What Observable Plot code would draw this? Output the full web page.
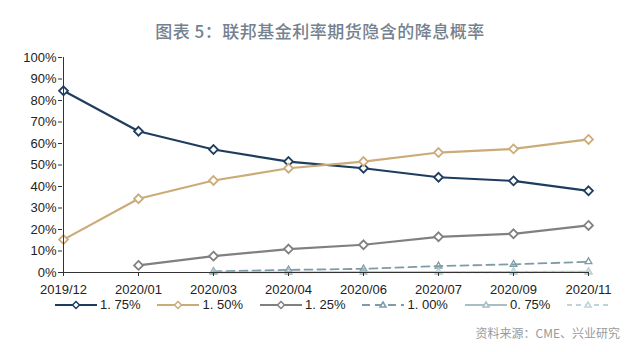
<!DOCTYPE html>
<html><head><meta charset="utf-8">
<script src="https://cdn.jsdelivr.net/npm/d3@7"></script>
<script src="https://cdn.jsdelivr.net/npm/@observablehq/plot@0.6"></script>
<style>
body{margin:0;background:#fff;}
#wrap{position:relative;width:640px;height:352px;overflow:hidden;background:#fff;font-family:"Noto Sans CJK SC","Liberation Sans",sans-serif;}
#title{position:absolute;top:18px;left:0;width:640px;text-align:center;font-size:17px;color:#75818e;font-weight:500;letter-spacing:0.5px;}
#chart{position:absolute;top:40px;left:0;}
#legend{position:absolute;top:298px;left:55px;display:flex;align-items:center;font-size:13px;line-height:13px;color:#222;font-family:"Liberation Sans",Arial,sans-serif;}
#legend .it{display:flex;align-items:center;margin-right:17px;}
#legend svg{margin-right:3px;}
#caption{position:absolute;top:324px;right:20px;font-size:12px;color:#9a9a9a;}
</style></head>
<body><div id="wrap">
<div id="title">图表 5：联邦基金利率期货隐含的降息概率</div>
<div id="chart"></div>
<div id="legend"></div>
<div id="caption">资料来源：CME、兴业研究</div>
</div>
<script>
const months = ["2019/12","2020/01","2020/03","2020/04","2020/06","2020/07","2020/09","2020/11"];
const p175 = [84.5, 65.7, 57.2, 51.6, 48.5, 44.3, 42.6, 38.0];
const p150 = [15.3, 34.3, 42.8, 48.5, 51.6, 55.8, 57.5, 61.9];
const p125 = [null, 3.3, 7.6, 10.9, 12.9, 16.6, 18.0, 21.9];
const p100 = [null, null, 0.5, 1.2, 1.7, 3.0, 3.8, 5.0];
const p075 = [null, null, 0.1, 0.1, 0.2, 0.2, 0.3, 0.4];
const p050 = [null, null, null, null, null, 0.0, 0.1, 0.2];
const seriesNames = ["1. 75%","1. 50%","1. 25%","1. 00%","0. 75%",""];
const seriesValues = [p175, p150, p125, p100, p075, p050];
const colors = ["#1e3d5e","#cbab78","#808080","#7f9ba6","#a7bfc3","#bcd5d8"];
const dashes = [null, null, null, "8,5", null, "5,4"];
const yTicks = [0,10,20,30,40,50,60,70,80,90,100];

const marks = [];
seriesValues.forEach((vals, i) => {
  const data = months.map((m, j) => ({m, v: vals[j]})).filter(d => d.v != null);
  marks.push(Plot.line(data, {x: "m", y: "v", stroke: colors[i], strokeWidth: i < 3 ? 2.2 : 1.8, strokeDasharray: dashes[i] || undefined}));
  if (i < 3) {
    marks.push(Plot.dot(data, {x: "m", y: "v", symbol: "diamond2", r: 4, fill: "#fff", stroke: colors[i], strokeWidth: 1.8}));
  } else {
    marks.push(Plot.dot(data, {x: "m", y: "v", symbol: "triangle", r: 2.5, fill: "none", stroke: colors[i], strokeWidth: 1.3}));
  }
});
marks.push(Plot.ruleY([0], {stroke: "#333", strokeWidth: 1}));
marks.push(Plot.ruleX([months[0]], {stroke: "#333", strokeWidth: 1}));
marks.push(Plot.axisY({ticks: yTicks, tickFormat: d => d + "%", tickSize: 4, tickPadding: 2, fontSize: 13, fill: "#222", stroke: "#333", label: null, fontFamily: "Liberation Sans, Arial, sans-serif"}));
marks.push(Plot.axisX({tickSize: 4, tickPadding: 8, fontSize: 13, fill: "#222", stroke: "#333", label: null, fontFamily: "Liberation Sans, Arial, sans-serif"}));

const chart = Plot.plot({
  width: 640, height: 262,
  marginLeft: 62, marginRight: 52, marginTop: 17, marginBottom: 30,
  x: {type: "point", domain: months, padding: 0},
  y: {domain: [0, 100]},
  style: {background: "transparent", overflow: "visible"},
  marks
});
document.getElementById("chart").appendChild(chart);

const lg = document.getElementById("legend");
seriesNames.forEach((name, i) => {
  const it = document.createElement("div"); it.className = "it";
  const ns = "http://www.w3.org/2000/svg";
  const s = document.createElementNS(ns, "svg"); s.setAttribute("width", 42); s.setAttribute("height", 12);
  const l = document.createElementNS(ns, "line");
  l.setAttribute("x1", 0); l.setAttribute("x2", 42); l.setAttribute("y1", 6); l.setAttribute("y2", 6);
  l.setAttribute("stroke", colors[i]); l.setAttribute("stroke-width", 2.2);
  if (dashes[i]) l.setAttribute("stroke-dasharray", dashes[i]);
  s.appendChild(l);
  const d = document.createElementNS(ns, "path");
  d.setAttribute("d", i < 3 ? "M21,2.5L24.5,6L21,9.5L17.5,6Z" : "M21,3L24,8L18,8Z");
  d.setAttribute("fill", "#fff"); d.setAttribute("stroke", colors[i]); d.setAttribute("stroke-width", 1.5);
  s.appendChild(d);
  it.appendChild(s);
  if (name) { const t = document.createElement("span"); t.textContent = name; it.appendChild(t); }
  lg.appendChild(it);
});
</script></body></html>
